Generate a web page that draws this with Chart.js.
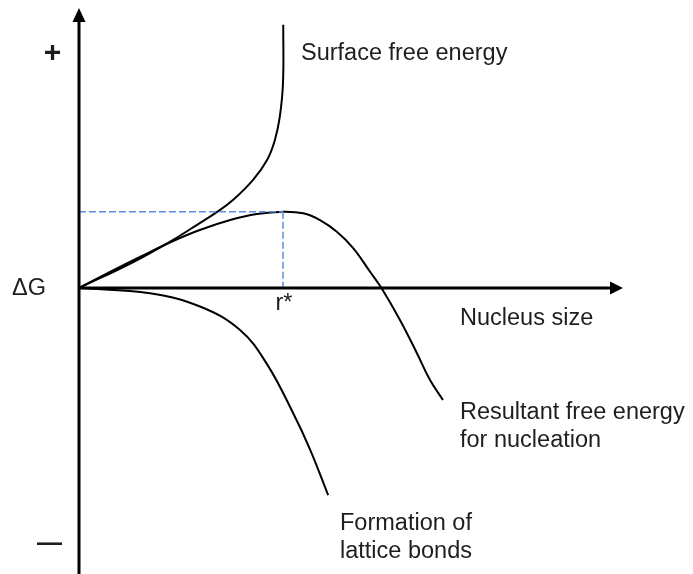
<!DOCTYPE html>
<html>
<head>
<meta charset="utf-8">
<script src="https://cdn.jsdelivr.net/npm/chart.js@4"></script>
<style>
  html, body { margin: 0; padding: 0; background: #fff; }
  #wrap { width: 693px; height: 574px; }
</style>
</head>
<body>
<div id="wrap"><canvas id="nucleation"></canvas></div>
<script>
// values (nucleus size vs ΔG, arbitrary units)
const surfaceX = [0, 0.99, 1.73, 2.22, 2.54, 2.83, 3.20, 3.46, 3.60, 3.69, 3.75, 3.755];
const surfaceY = [0, 0.46, 0.86, 1.16, 1.36, 1.57, 1.93, 2.29, 2.64, 3.05, 3.66, 4.70];

const resultantX = [0, 0.57, 1.12, 1.73, 2.22, 2.78, 3.27, 3.756, 4.12, 4.43, 4.74, 5.04, 5.35, 5.56, 5.90, 6.21, 6.45, 6.69];
const resultantY = [0, 0.286, 0.554, 0.839, 1.036, 1.214, 1.321, 1.3625, 1.334, 1.214, 1.005, 0.714, 0.291, 0, -0.571, -1.16, -1.64, -2.0];

const latticeX = [0, 1.305, 2.224, 2.96, 3.45, 3.94, 4.25, 4.58];
const latticeY = [0, -0.095, -0.33, -0.75, -1.35, -2.24, -2.89, -3.70];

const rStar = 3.75;
const gMax = 1.36;

const xRange = [0, 10];
const yRange = [-5, 5];

const FONT = '23.5px "Liberation Sans", Arial, sans-serif';
const INK = '#1e1e1e';

function toPoints(xs, ys) {
    return xs.map((x, i) => ({ x: x, y: ys[i] }));
}

// axes with arrow heads + the text labels
const diagramPlugin = {
    id: 'diagram',
    afterDatasetsDraw(chart) {
        const ctx = chart.ctx;
        const xs = chart.scales.x;
        const ys = chart.scales.y;
        const ox = xs.getPixelForValue(0);
        const oy = ys.getPixelForValue(0);
        const top = ys.getPixelForValue(yRange[1]);
        const right = xs.getPixelForValue(xRange[1]);

        ctx.save();
        ctx.strokeStyle = '#000';
        ctx.fillStyle = '#000';
        ctx.lineWidth = 3;

        // y axis
        ctx.beginPath();
        ctx.moveTo(ox, chart.height);
        ctx.lineTo(ox, top + 12);
        ctx.stroke();
        ctx.beginPath();
        ctx.moveTo(ox, top);
        ctx.lineTo(ox - 6.5, top + 14);
        ctx.lineTo(ox + 6.5, top + 14);
        ctx.closePath();
        ctx.fill();

        // x axis
        ctx.beginPath();
        ctx.moveTo(ox, oy);
        ctx.lineTo(right - 11, oy);
        ctx.stroke();
        ctx.beginPath();
        ctx.moveTo(right, oy);
        ctx.lineTo(right - 13, oy - 6.5);
        ctx.lineTo(right - 13, oy + 6.5);
        ctx.closePath();
        ctx.fill();

        // labels
        ctx.font = FONT;
        ctx.fillStyle = INK;
        ctx.textBaseline = 'alphabetic';
        ctx.textAlign = 'left';
        ctx.fillText('Surface free energy', 301, 60);
        ctx.fillText('Nucleus size', 460, 325);
        ctx.fillText('Resultant free energy', 460, 419);
        ctx.fillText('for nucleation', 460, 447);
        ctx.fillText('Formation of', 340, 530);
        ctx.fillText('lattice bonds', 340, 558);
        ctx.fillText('ΔG', 12, 295);

        ctx.textAlign = 'center';
        ctx.fillText('r*', xs.getPixelForValue(rStar) + 1, 310);
        ctx.font = 'bold 30px "Liberation Sans", Arial, sans-serif';
        ctx.fillText('+', 52.5, 62);
        ctx.font = 'bold 25px "Liberation Sans", Arial, sans-serif';
        ctx.fillText('—', 49.5, 551);
        ctx.restore();
    }
};

function createDiagram() {
    const ctx = document.getElementById('nucleation').getContext('2d');
    const curve = {
        borderColor: '#000',
        borderWidth: 2,
        pointRadius: 0,
        fill: false,
        tension: 0.4
    };
    const dashed = {
        borderColor: '#5b8fdc',
        borderWidth: 1.5,
        borderDash: [7, 3],
        pointRadius: 0,
        fill: false,
        tension: 0
    };

    new Chart(ctx, {
        type: 'line',
        data: {
            datasets: [
                Object.assign({ label: 'max', data: [{ x: 0, y: gMax }, { x: rStar, y: gMax }] }, dashed),
                Object.assign({ label: 'r*', data: [{ x: rStar, y: gMax }, { x: rStar, y: 0 }] }, dashed),
                Object.assign({ label: 'Surface free energy', data: toPoints(surfaceX, surfaceY) }, curve),
                Object.assign({ label: 'Resultant free energy', data: toPoints(resultantX, resultantY) }, curve),
                Object.assign({ label: 'Formation of lattice bonds', data: toPoints(latticeX, latticeY) }, curve)
            ]
        },
        options: {
            responsive: true,
            maintainAspectRatio: false,
            animation: false,
            layout: { padding: { left: 79, right: 70, top: 8, bottom: 6 } },
            scales: {
                x: { type: 'linear', min: xRange[0], max: xRange[1], display: false },
                y: { type: 'linear', min: yRange[0], max: yRange[1], display: false }
            },
            plugins: {
                legend: { display: false },
                tooltip: { enabled: false }
            }
        },
        plugins: [diagramPlugin]
    });
}

window.onload = createDiagram;
</script>
</body>
</html>
